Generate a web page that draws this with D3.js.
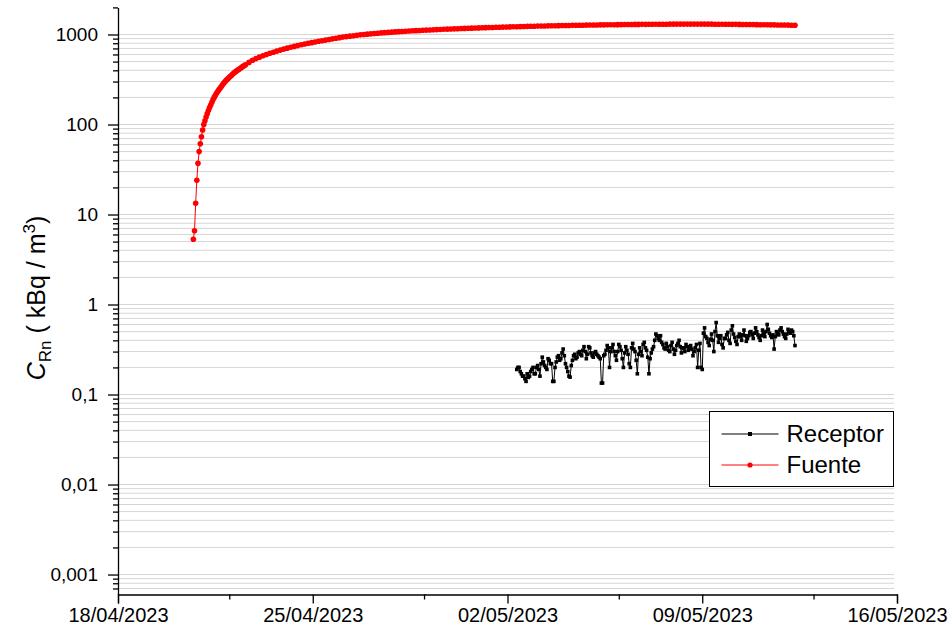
<!DOCTYPE html>
<html>
<head>
<meta charset="utf-8">
<script src="https://cdn.jsdelivr.net/npm/d3@7"></script>
<style>
    body { margin: 0; background: #fff; }
    text { font-family: "Liberation Sans", Arial, sans-serif; }
</style>
</head>
<body>
<div id="chart_div"></div>
<script>

// fuente: first two days sampled hourly, then every 3 hours
var fuenteStart = "2023-04-20T17:00";
var fuenteHourly = [
    5.3, 6.6, 13.3, 24, 37, 50, 61, 73, 87, 100, 110, 121, 132, 143, 154, 165,
    177, 189, 200, 211, 222, 232, 243, 253, 263, 274, 285, 296, 306, 316, 325, 334,
    344, 353, 363, 373, 382, 391, 400, 408, 417, 425, 434, 443, 453, 462
];
var fuente3hStart = "2023-04-22T17:00";
var fuente3h = [
    490, 517, 540, 560, 580, 600,
    618, 636, 654, 671, 688, 705, 721, 737, 753, 769, 784, 798, 812, 826, 840, 853,
    866, 879, 895, 909, 922, 935, 947, 959, 970, 981, 991, 1000, 1009, 1017, 1025, 1033,
    1041, 1048, 1055, 1062, 1069, 1075, 1081, 1087, 1093, 1099, 1104, 1109, 1114, 1119, 1124, 1129,
    1134, 1138, 1143, 1147, 1151, 1156, 1160, 1164, 1168, 1172, 1176, 1180, 1184, 1188, 1191, 1195,
    1198, 1202, 1205, 1208, 1212, 1215, 1218, 1221, 1224, 1227, 1230, 1233, 1236, 1239, 1242, 1244,
    1247, 1249, 1252, 1254, 1257, 1259, 1261, 1263, 1265, 1267, 1269, 1271, 1273, 1275, 1277, 1279,
    1280, 1282, 1284, 1285, 1287, 1288, 1290, 1291, 1292, 1294, 1295, 1296, 1297, 1298, 1299, 1300,
    1301, 1302, 1302, 1303, 1303, 1304, 1304, 1304, 1305, 1305, 1305, 1304, 1304, 1304, 1303, 1303,
    1302, 1301, 1300, 1299, 1298, 1297, 1296, 1295, 1293, 1292, 1290, 1289, 1287, 1285, 1284, 1282,
    1280, 1279, 1277, 1275, 1273, 1271, 1269, 1267
];

// receptor: hourly
var receptorStart = "2023-05-02T08:00";
var receptor = [
    0.19, 0.2, 0.2, 0.18, 0.17, 0.16, 0.16, 0.15, 0.14, 0.17, 0.155, 0.16,
    0.18, 0.19, 0.2, 0.17, 0.17, 0.2, 0.21, 0.19, 0.16, 0.22, 0.26, 0.23,
    0.21, 0.2, 0.19, 0.25, 0.24, 0.22, 0.22, 0.14, 0.14, 0.2, 0.23, 0.26,
    0.27, 0.24, 0.25, 0.29, 0.32, 0.27, 0.22, 0.2, 0.18, 0.16, 0.156, 0.21,
    0.24, 0.27, 0.28, 0.25, 0.26, 0.29, 0.3, 0.28, 0.27, 0.31, 0.34, 0.3,
    0.25, 0.28, 0.34, 0.33, 0.29, 0.27, 0.26, 0.29, 0.3, 0.28, 0.27, 0.26,
    0.25, 0.134, 0.134, 0.27, 0.28, 0.31, 0.35, 0.33, 0.2, 0.3, 0.33, 0.36,
    0.3, 0.27, 0.24, 0.3, 0.36, 0.34, 0.31, 0.25, 0.2, 0.29, 0.34, 0.31,
    0.28, 0.22, 0.2, 0.33, 0.37, 0.32, 0.3, 0.24, 0.17, 0.28, 0.33, 0.3,
    0.27, 0.36, 0.38, 0.33, 0.31, 0.26, 0.17, 0.25, 0.29, 0.32, 0.34, 0.4,
    0.47, 0.45, 0.42, 0.4, 0.45, 0.38, 0.36, 0.33, 0.32, 0.37, 0.34, 0.31,
    0.3, 0.35, 0.38, 0.32, 0.28, 0.31, 0.35, 0.37, 0.4, 0.34, 0.29, 0.33,
    0.33, 0.3, 0.36, 0.34, 0.31, 0.33, 0.35, 0.32, 0.27, 0.3, 0.33, 0.36,
    0.2, 0.31, 0.37, 0.2, 0.19, 0.48, 0.55, 0.44, 0.42, 0.38, 0.35, 0.41,
    0.47, 0.4, 0.3, 0.5, 0.63, 0.45, 0.38, 0.42, 0.45, 0.36, 0.33, 0.42,
    0.42, 0.46, 0.49, 0.4, 0.37, 0.52, 0.58, 0.47, 0.43, 0.39, 0.36, 0.44,
    0.47, 0.44, 0.4, 0.46, 0.52, 0.45, 0.39, 0.42, 0.45, 0.49, 0.5, 0.46,
    0.42, 0.48, 0.55, 0.5, 0.46, 0.43, 0.4, 0.45, 0.52, 0.48, 0.44, 0.5,
    0.6, 0.53, 0.48, 0.45, 0.43, 0.46, 0.32, 0.44, 0.5, 0.48, 0.46, 0.52,
    0.55, 0.5, 0.47, 0.44, 0.42, 0.47, 0.53, 0.5, 0.48, 0.52, 0.5, 0.45, 0.35
];

// axis ticks
var xTickLabels = ["18/04/2023", "25/04/2023", "02/05/2023", "09/05/2023", "16/05/2023"];
var xMinorLabels = ["22/04/2023", "29/04/2023", "06/05/2023", "13/05/2023"];
var yTicks = [0.001, 0.01, 0.1, 1, 10, 100, 1000];

var parseTime = d3.timeParse("%Y-%m-%dT%H:%M");
var parseDay = d3.timeParse("%d/%m/%Y");

function series(start, step, values) {
    var t0 = parseTime(start);
    return values.map(function(v, i) {
        return {date: d3.timeHour.offset(t0, i * step), value: v};
    });
}

var fuenteData = series(fuenteStart, 1, fuenteHourly).concat(series(fuente3hStart, 3, fuente3h));
var receptorData = series(receptorStart, 1, receptor);

var width = 949, height = 634;

var x = d3.scaleTime()
    .domain([parseDay(xTickLabels[0]), parseDay(xTickLabels[xTickLabels.length - 1])])
    .range([118, 897]);

var y = d3.scaleLog()
    .domain([0.0006, 2000])
    .range([594.5, 7.4]);

var locale = d3.formatLocale({decimal: ",", thousands: ".", grouping: [3], currency: ["", ""]});
var fmt = locale.format("~g");

var svg = d3.select("#chart_div")
    .append("svg")
    .attr("width", width)
    .attr("height", height);

// all minor log values in domain
var minorVals = [];
for (var e = -4; e <= 3; e++) {
    for (var k = 1; k <= 9; k++) {
        var v = k * Math.pow(10, e);
        if (v >= 0.0006 - 1e-12 && v <= 2000 + 1e-9) minorVals.push(+v.toPrecision(3));
    }
}

// horizontal grid
svg.append("g")
    .selectAll("line")
    .data(minorVals.filter(function(d) { return d > 0.00061 && d < 1999; }))
    .enter().append("line")
    .attr("x1", x.range()[0])
    .attr("x2", 894)
    .attr("y1", function(d) { return y(d); })
    .attr("y2", function(d) { return y(d); })
    .attr("stroke", "#d6d6d6")
    .attr("stroke-width", 1);

var line = d3.line()
    .x(function(d) { return x(d.date); })
    .y(function(d) { return y(d.value); });

// receptor
svg.append("path")
    .datum(receptorData)
    .attr("fill", "none")
    .attr("stroke", "#000")
    .attr("stroke-width", 1)
    .attr("d", line);

svg.append("g")
    .selectAll("rect")
    .data(receptorData)
    .enter().append("rect")
    .attr("x", function(d) { return x(d.date) - 1.8; })
    .attr("y", function(d) { return y(d.value) - 1.8; })
    .attr("width", 3.6)
    .attr("height", 3.6)
    .attr("fill", "#000");

// fuente
svg.append("path")
    .datum(fuenteData)
    .attr("fill", "none")
    .attr("stroke", "#ff0000")
    .attr("stroke-width", 1)
    .attr("d", line);

svg.append("g")
    .selectAll("circle")
    .data(fuenteData)
    .enter().append("circle")
    .attr("cx", function(d) { return x(d.date); })
    .attr("cy", function(d) { return y(d.value); })
    .attr("r", 2.8)
    .attr("fill", "#ff0000");

// x axis
var xAxis = svg.append("g")
    .attr("transform", "translate(0,594.5)")
    .call(d3.axisBottom(x)
        .tickValues(xTickLabels.map(parseDay))
        .tickFormat(d3.timeFormat("%d/%m/%Y"))
        .tickSize(9)
        .tickPadding(4));
xAxis.select(".domain").attr("stroke", "#000").attr("stroke-width", 1.3);
xAxis.selectAll(".tick line").attr("stroke-width", 1.3);
xAxis.selectAll("text").attr("font-size", "20px").attr("fill", "#000")
    .attr("font-family", "Liberation Sans, Arial, sans-serif");

svg.append("g")
    .attr("transform", "translate(0,594.5)")
    .call(d3.axisBottom(x)
        .tickValues(xMinorLabels.map(parseDay))
        .tickFormat("")
        .tickSize(5))
    .call(function(g) { g.select(".domain").remove(); })
    .selectAll(".tick line").attr("stroke-width", 1.3);

// y axis
var yAxis = svg.append("g")
    .attr("transform", "translate(118,0)")
    .call(d3.axisLeft(y)
        .tickValues(yTicks)
        .tickFormat(fmt)
        .tickSize(10)
        .tickSizeOuter(0)
        .tickPadding(10));
yAxis.select(".domain").attr("stroke-width", 1.3);
yAxis.selectAll(".tick line").attr("stroke-width", 1.3);
yAxis.selectAll("text").attr("font-size", "19px").attr("fill", "#000")
    .attr("font-family", "Liberation Sans, Arial, sans-serif");

svg.append("g")
    .attr("transform", "translate(118,0)")
    .call(d3.axisLeft(y)
        .tickValues(minorVals.filter(function(d) { return yTicks.indexOf(d) < 0 && d > 0.00061; }))
        .tickFormat("")
        .tickSize(5))
    .call(function(g) { g.select(".domain").remove(); })
    .selectAll(".tick line").attr("stroke-width", 1.3);

// y title
var title = svg.append("text")
    .attr("transform", "translate(45,298) rotate(-90)")
    .attr("text-anchor", "middle")
    .attr("font-size", "25px")
    .attr("fill", "#000");
title.append("tspan").attr("font-style", "italic").text("C");
title.append("tspan").attr("font-size", "17px").attr("dy", "6").text("Rn");
title.append("tspan").attr("dy", "-6").text(" ( kBq / m");
title.append("tspan").attr("font-size", "17px").attr("dy", "-10").text("3");
title.append("tspan").attr("dy", "10").text(")");

// legend
var legendItems = [
    {name: "Receptor", color: "#000", shape: "square"},
    {name: "Fuente", color: "#ff0000", shape: "circle"}
];

var legend = svg.append("g").attr("transform", "translate(709.5,411.5)");
legend.append("rect")
    .attr("width", 184)
    .attr("height", 75)
    .attr("fill", "#fff")
    .attr("stroke", "#000")
    .attr("stroke-width", 1);

var item = legend.selectAll(".legend-item")
    .data(legendItems)
    .enter().append("g")
    .attr("class", "legend-item")
    .attr("transform", function(d, i) { return "translate(0," + (22.5 + i * 31) + ")"; });

item.append("line")
    .attr("x1", 12).attr("x2", 69)
    .attr("stroke", function(d) { return d.color; })
    .attr("stroke-width", 1);

item.each(function(d) {
    var g = d3.select(this);
    if (d.shape == "square") {
        g.append("rect").attr("x", 38.5).attr("y", -2).attr("width", 4).attr("height", 4).attr("fill", d.color);
    }
    else {
        g.append("circle").attr("cx", 40.5).attr("r", 2.6).attr("fill", d.color);
    }
});

item.append("text")
    .attr("x", 77)
    .attr("dy", "0.35em")
    .attr("font-size", "24px")
    .attr("fill", "#000")
    .text(function(d) { return d.name; });

</script>
</body>
</html>
